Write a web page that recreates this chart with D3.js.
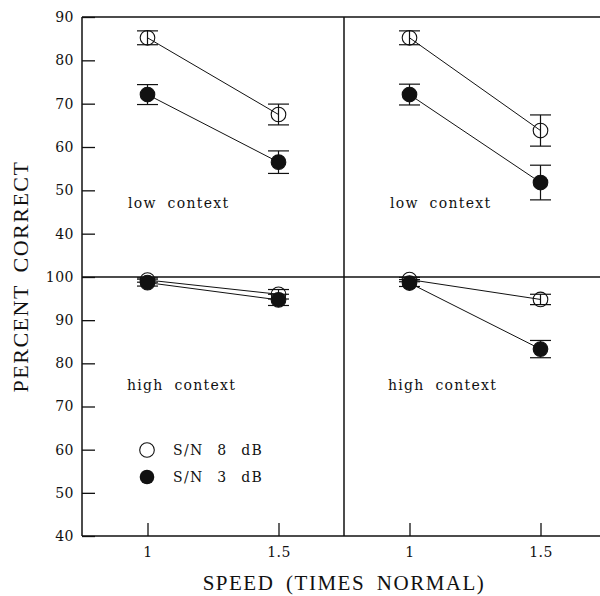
<!DOCTYPE html>
<html>
<head>
<meta charset="utf-8">
<script src="https://cdn.jsdelivr.net/npm/d3@7"></script>
<style>
  body { margin: 0; background: #fff; }
  text { font-family: "DejaVu Serif", "Liberation Serif", serif; fill: #111; }
</style>
</head>
<body>
<div id="chart"></div>
<script>
// speeds on the x axis
const speeds = [1, 1.5];

// low context (upper panels), left (A) and right (B) columns
const lowA_8dB = [85.2, 67.5];
const lowA_8dB_err = [1.6, 2.4];
const lowA_3dB = [72.1, 56.5];
const lowA_3dB_err = [2.3, 2.6];
const lowB_8dB = [85.2, 63.8];
const lowB_8dB_err = [1.6, 3.6];
const lowB_3dB = [72.1, 51.8];
const lowB_3dB_err = [2.4, 4.0];

// high context (lower panels)
const highA_8dB = [99.3, 96.0];
const highA_8dB_err = [0.5, 1.1];
const highA_3dB = [98.7, 94.7];
const highA_3dB_err = [0.8, 1.3];
const highB_8dB = [99.4, 94.8];
const highB_8dB_err = [0.5, 1.2];
const highB_3dB = [98.6, 83.3];
const highB_3dB_err = [0.8, 2.0];

const upperTicks = [40, 50, 60, 70, 80, 90];
const lowerTicks = [40, 50, 60, 70, 80, 90, 100];
const xTicks = [1, 1.5];

const width = 600, height = 596;
const svg = d3.select('#chart').append('svg')
    .attr('width', width)
    .attr('height', height);

const plotLeft = 82, plotMid = 344, plotRight = 606;
const plotTop = 17, plotSplit = 277, plotBottom = 536;

const xA = d3.scaleLinear().domain([0.75, 1.75]).range([plotLeft, plotMid]);
const xB = d3.scaleLinear().domain([0.75, 1.75]).range([plotMid, plotRight]);
const yUp = d3.scaleLinear().domain([30, 90]).range([plotSplit, plotTop]);
const yLow = d3.scaleLinear().domain([40, 100]).range([plotBottom, plotSplit]);

function styleAxis(g) {
    g.select('.domain').remove();
    g.selectAll('.tick line').attr('stroke', '#111').attr('stroke-width', 1.3);
    g.selectAll('.tick text')
        .style('font-family', '"DejaVu Serif", serif')
        .style('font-size', '14px')
        .style('letter-spacing', '0.5px')
        .attr('fill', '#111');
}

// y axes on the left
svg.append('g')
    .attr('transform', `translate(${plotLeft},0)`)
    .call(d3.axisLeft(yUp).tickValues(upperTicks).tickSize(-13).tickPadding(8))
    .call(styleAxis);

svg.append('g')
    .attr('transform', `translate(${plotLeft},0)`)
    .call(d3.axisLeft(yLow).tickValues(lowerTicks).tickSize(-13).tickPadding(8))
    .call(styleAxis);

// x axes at the bottom
[xA, xB].forEach(x => {
    svg.append('g')
        .attr('transform', `translate(0,${plotBottom})`)
        .call(d3.axisBottom(x).tickValues(xTicks).tickFormat(d3.format('')).tickSize(-13).tickPadding(11))
        .call(styleAxis);
});

// frame
const frame = svg.append('g').attr('stroke', '#111').attr('stroke-width', 1.5);
frame.append('line').attr('x1', plotLeft).attr('x2', width).attr('y1', plotTop).attr('y2', plotTop);
frame.append('line').attr('x1', plotLeft).attr('x2', width).attr('y1', plotSplit).attr('y2', plotSplit);
frame.append('line').attr('x1', plotLeft).attr('x2', width).attr('y1', plotBottom).attr('y2', plotBottom);
frame.append('line').attr('x1', plotLeft).attr('x2', plotLeft).attr('y1', plotTop).attr('y2', plotBottom);
frame.append('line').attr('x1', plotMid).attr('x2', plotMid).attr('y1', plotTop).attr('y2', plotBottom);

// one series: connecting line, error bars, markers
function drawSeries(x, y, values, errs, filled) {
    const pts = speeds.map((s, i) => ({ s, v: values[i], e: errs[i] }));
    const g = svg.append('g');

    g.append('path')
        .datum(pts)
        .attr('fill', 'none')
        .attr('stroke', '#111')
        .attr('stroke-width', 1)
        .attr('d', d3.line().x(d => x(d.s)).y(d => y(d.v)));

    const eb = g.selectAll('.err').data(pts).enter().append('g')
        .attr('stroke', '#111').attr('stroke-width', 1.2);
    eb.append('line')
        .attr('x1', d => x(d.s)).attr('x2', d => x(d.s))
        .attr('y1', d => y(d.v + d.e)).attr('y2', d => y(d.v - d.e));
    eb.append('line')
        .attr('x1', d => x(d.s) - 10.5).attr('x2', d => x(d.s) + 10.5)
        .attr('y1', d => y(d.v + d.e)).attr('y2', d => y(d.v + d.e));
    eb.append('line')
        .attr('x1', d => x(d.s) - 10.5).attr('x2', d => x(d.s) + 10.5)
        .attr('y1', d => y(d.v - d.e)).attr('y2', d => y(d.v - d.e));

    g.selectAll('circle').data(pts).enter().append('circle')
        .attr('cx', d => x(d.s))
        .attr('cy', d => y(d.v))
        .attr('r', 7.3)
        .attr('fill', filled ? '#111' : 'none')
        .attr('stroke', '#111')
        .attr('stroke-width', 1.1);
}

drawSeries(xA, yUp, lowA_8dB, lowA_8dB_err, false);
drawSeries(xA, yUp, lowA_3dB, lowA_3dB_err, true);
drawSeries(xB, yUp, lowB_8dB, lowB_8dB_err, false);
drawSeries(xB, yUp, lowB_3dB, lowB_3dB_err, true);
drawSeries(xA, yLow, highA_8dB, highA_8dB_err, false);
drawSeries(xA, yLow, highA_3dB, highA_3dB_err, true);
drawSeries(xB, yLow, highB_8dB, highB_8dB_err, false);
drawSeries(xB, yLow, highB_3dB, highB_3dB_err, true);

// panel labels
const labelStyle = t => t
    .style('font-size', '14px')
    .style('letter-spacing', '1.3px')
    .style('word-spacing', '5px');

svg.append('text').attr('x', 128).attr('y', 208).text('low context').call(labelStyle);
svg.append('text').attr('x', 390).attr('y', 208).text('low context').call(labelStyle);
svg.append('text').attr('x', 127).attr('y', 390).text('high context').call(labelStyle);
svg.append('text').attr('x', 388).attr('y', 390).text('high context').call(labelStyle);

// legend
const legend = svg.append('g');
legend.append('circle').attr('cx', 147).attr('cy', 450).attr('r', 7.3)
    .attr('fill', 'none').attr('stroke', '#111').attr('stroke-width', 1.1);
legend.append('circle').attr('cx', 147).attr('cy', 477).attr('r', 7.3)
    .attr('fill', '#111');
legend.append('text').attr('x', 173).attr('y', 455).text('S/N 8 dB').call(labelStyle)
    .style('word-spacing', '8px');
legend.append('text').attr('x', 173).attr('y', 482).text('S/N 3 dB').call(labelStyle)
    .style('word-spacing', '8px');

// axis titles
svg.append('text')
    .attr('transform', `translate(28,${(plotTop + plotBottom) / 2}) rotate(-90)`)
    .attr('text-anchor', 'middle')
    .style('font-family', '"Liberation Serif", serif')
    .style('font-size', '22px')
    .style('letter-spacing', '1.5px')
    .style('word-spacing', '5px')
    .text('PERCENT CORRECT');

svg.append('text')
    .attr('x', plotMid)
    .attr('y', 590)
    .attr('text-anchor', 'middle')
    .style('font-family', '"Liberation Serif", serif')
    .style('font-size', '21px')
    .style('letter-spacing', '1.5px')
    .style('word-spacing', '5px')
    .text('SPEED (TIMES NORMAL)');
</script>
</body>
</html>
